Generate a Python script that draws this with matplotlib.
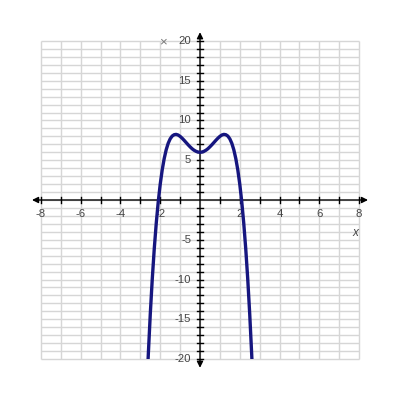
import numpy as np
import matplotlib.pyplot as plt

plt.rcParams['font.family'] = ['Liberation Sans', 'DejaVu Sans']

# curve values (symmetric about x = 0)
x_half = [0.0, 0.1, 0.2, 0.3, 0.4, 0.5, 0.6, 0.7, 0.8, 0.9, 1.0, 1.1, 1.2, 1.3,
          1.4, 1.5, 1.6, 1.7, 1.8, 1.9, 2.0, 2.1, 2.2, 2.3, 2.4, 2.5, 2.6, 2.62]
y_half = [6.00, 6.03, 6.12, 6.26, 6.45, 6.69, 6.95, 7.23, 7.51, 7.77, 8.00, 8.17, 8.25, 8.21,
          8.04, 7.69, 7.13, 6.32, 5.22, 3.80, 2.00, -0.22, -2.91, -6.11, -9.90, -14.31, -19.42, -20.53]

x_ticklabels = [-8, -6, -4, -2, 2, 4, 6, 8]
y_ticklabels = [-20, -15, -10, -5, 5, 10, 15, 20]

xmin, xmax = -8, 8
ymin, ymax = -20, 20

xs = [-v for v in x_half[::-1]] + x_half[1:]
ys = y_half[::-1] + y_half[1:]

fig = plt.figure(figsize=(4, 4), dpi=100)
ax = fig.add_axes([0.0775, 0.0775, 0.845, 0.845])
ax.set_xlim(-8.5, 8.5)
ax.set_ylim(-21.25, 21.25)
ax.axis("off")

grid_col = "#d6d6d6"
ax.vlines(np.arange(xmin, xmax + 1), ymin, ymax, color=grid_col, lw=1, zorder=1)
ax.hlines(np.arange(ymin, ymax + 1), xmin, xmax, color=grid_col, lw=1, zorder=1)

# axes with arrows at both ends
arrow = dict(arrowstyle="<|-|>", color="black", lw=1, mutation_scale=9, shrinkA=0, shrinkB=0)
ax.annotate("", xy=(8.45, 0), xytext=(-8.45, 0), arrowprops=arrow, zorder=3)
ax.annotate("", xy=(0, 21.1), xytext=(0, -21.1), arrowprops=arrow, zorder=3)

# tick marks every unit
tx = 3 / 19.875
ty = 3 / 7.95
for v in range(xmin, xmax + 1):
    if v != 0:
        ax.plot([v, v], [-ty, ty], color="black", lw=1, zorder=3)
for v in range(ymin, ymax + 1):
    if v != 0:
        ax.plot([-tx, tx], [v, v], color="black", lw=1, zorder=3)

lab_col = "#444444"
for v in x_ticklabels:
    ax.text(v, -1.8, str(v), ha="center", va="center", fontsize=8.2, color=lab_col, zorder=2)
for v in y_ticklabels:
    ax.text(-0.45, v, str(v), ha="right", va="center", fontsize=8.2, color=lab_col, zorder=2)

ax.text(7.8, -4.2, "x", ha="center", va="center", fontsize=8.5, style="italic", color=lab_col)
ax.text(-1.85, 19.8, "×", ha="center", va="center", fontsize=9.5, color="#777777")

curve, = ax.plot(xs, ys, color="#16167f", lw=2.4, solid_capstyle="butt", zorder=4)
line_clip = plt.Rectangle((xmin, ymin), xmax - xmin, ymax - ymin, transform=ax.transData)
curve.set_clip_path(line_clip)

fig.savefig("out.png", dpi=100)
